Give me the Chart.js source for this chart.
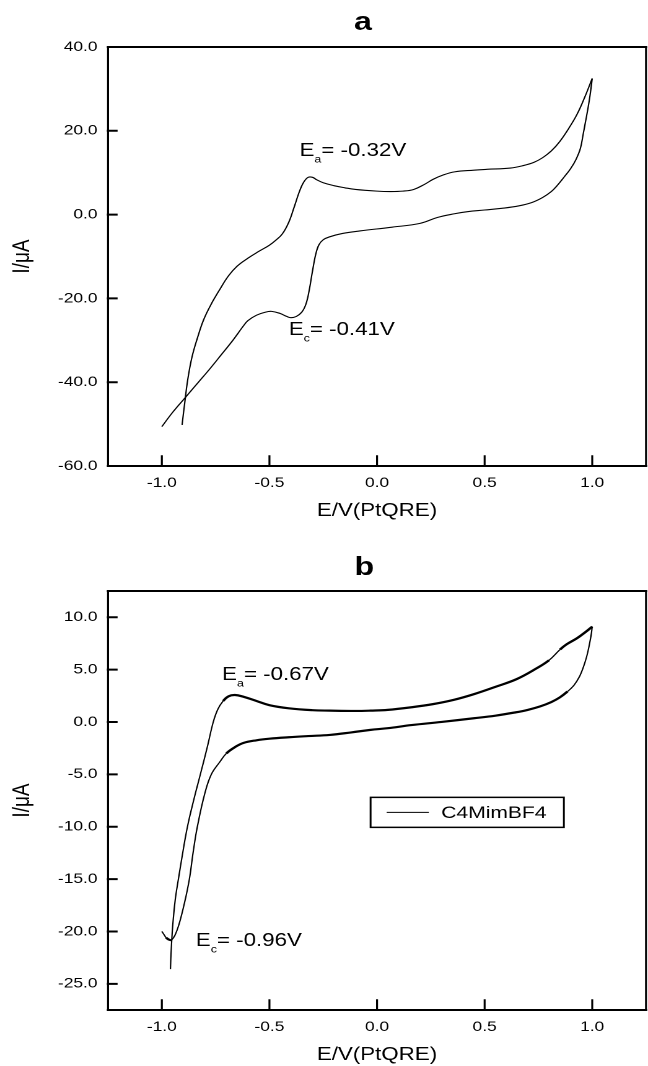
<!DOCTYPE html>
<html>
<head>
<meta charset="utf-8">
<script src="https://cdn.jsdelivr.net/npm/chart.js@4.4.1/dist/chart.umd.min.js"></script>
<style>
    html, body { margin: 0; padding: 0; background: #fff; }
    body { width: 648px; height: 1066px; overflow: hidden; position: relative; }
    /* the original figure is stretched sideways, so lay out at 523px and widen */
    #page { position: absolute; left: 0; top: 0; width: 523px; height: 1066px; transform: scaleX(1.239); transform-origin: 0 0; }
    .panel-title { position: absolute; font: bold 26px "Liberation Sans", Arial, sans-serif; line-height: 26px; transform: translateX(-50%); color: #000; }
    .box { position: absolute; left: 0; width: 523px; }
</style>
</head>
<body>
<div id="page">
    <div class="panel-title" style="left:293px; top:8px;">a</div>
    <div class="box" style="top:0; height:522px;"><canvas id="chartA"></canvas></div>
    <div class="panel-title" style="left:294px; top:553px;">b</div>
    <div class="box" style="top:533px; height:533px;"><canvas id="chartB"></canvas></div>
</div>
<script>
// ---- data ----
var xTicks = [-1.0, -0.5, 0.0, 0.5, 1.0];
var yTicksA = [-60, -40, -20, 0, 20, 40];
var yTicksB = [-25, -20, -15, -10, -5, 0, 5, 10];

// panel a, anodic sweep (-0.9 V -> 1.0 V)
var eA_fwd = [-0.906, -0.895, -0.88, -0.86, -0.835, -0.805, -0.77, -0.73, -0.69, -0.65, -0.60, -0.55, -0.50, -0.47, -0.44, -0.41, -0.385, -0.36, -0.34, -0.32, -0.30, -0.28, -0.25, -0.20, -0.15, -0.10, 0.00, 0.06, 0.12, 0.17, 0.22, 0.26, 0.31, 0.36, 0.45, 0.51, 0.62, 0.68, 0.73, 0.77, 0.81, 0.85, 0.89, 0.93, 0.965, 1.00];
var iA_fwd = [-50.2, -45.5, -39.5, -34.0, -29.5, -25.0, -21.3, -17.8, -14.6, -12.3, -10.4, -8.8, -7.3, -6.1, -4.6, -1.8, 1.8, 5.6, 7.8, 8.9, 8.9, 8.3, 7.6, 6.9, 6.4, 6.0, 5.6, 5.5, 5.6, 6.0, 7.2, 8.4, 9.5, 10.2, 10.6, 10.8, 11.1, 11.7, 12.5, 13.6, 15.2, 17.5, 20.5, 24.0, 28.0, 32.5];
// panel a, cathodic sweep (1.0 V -> -1.0 V)
var eA_rev = [1.00, 0.99, 0.98, 0.97, 0.958, 0.945, 0.925, 0.90, 0.87, 0.84, 0.81, 0.77, 0.72, 0.66, 0.58, 0.50, 0.42, 0.36, 0.28, 0.20, 0.07, -0.08, -0.16, -0.22, -0.25, -0.27, -0.285, -0.30, -0.315, -0.33, -0.35, -0.375, -0.40, -0.42, -0.45, -0.49, -0.52, -0.56, -0.60, -0.62, -0.67, -0.72, -0.78, -0.83, -0.89, -0.95, -1.00];
var iA_rev = [32.5, 28.5, 25.3, 22.5, 19.2, 15.8, 13.2, 11.0, 9.0, 7.1, 5.5, 4.1, 2.9, 2.1, 1.5, 1.1, 0.7, 0.2, -0.7, -2.1, -3.0, -3.9, -4.5, -5.3, -6.0, -7.2, -9.5, -13.5, -18.0, -21.3, -23.3, -24.3, -24.6, -24.3, -23.6, -23.1, -23.3, -24.0, -25.3, -26.5, -30.0, -33.2, -37.0, -40.0, -43.6, -47.2, -50.6];

// panel b, anodic sweep
var eB_fwd = [-0.96, -0.957, -0.95, -0.938, -0.923, -0.903, -0.881, -0.85, -0.821, -0.79, -0.761, -0.74, -0.715, -0.69, -0.66, -0.62, -0.56, -0.50, -0.41, -0.30, -0.22, -0.10, -0.03, 0.05, 0.16, 0.26, 0.355, 0.45, 0.55, 0.65, 0.74, 0.80, 0.85, 0.88, 0.93, 0.97, 1.00];
var iB_fwd = [-23.6, -22.0, -19.6, -17.0, -15.0, -12.5, -10.0, -7.3, -5.0, -2.5, 0.0, 1.2, 2.0, 2.45, 2.57, 2.4, 2.0, 1.6, 1.3, 1.12, 1.08, 1.05, 1.08, 1.15, 1.4, 1.7, 2.1, 2.65, 3.35, 4.1, 5.1, 5.9, 6.9, 7.4, 8.0, 8.6, 9.1];
// panel b, cathodic sweep
var eB_rev = [1.00, 0.995, 0.985, 0.975, 0.96, 0.94, 0.915, 0.885, 0.85, 0.81, 0.76, 0.70, 0.64, 0.55, 0.45, 0.30, 0.16, 0.05, -0.03, -0.12, -0.22, -0.32, -0.41, -0.50, -0.56, -0.62, -0.66, -0.70, -0.73, -0.77, -0.80, -0.835, -0.855, -0.872, -0.895, -0.92, -0.94, -0.955, -0.965, -0.98, -0.99, -1.00];
var iB_rev = [9.1, 8.3, 7.2, 6.3, 5.3, 4.3, 3.5, 2.9, 2.35, 1.9, 1.5, 1.15, 0.9, 0.6, 0.35, 0.0, -0.3, -0.6, -0.76, -1.0, -1.24, -1.35, -1.46, -1.6, -1.75, -2.0, -2.4, -3.0, -3.8, -5.0, -6.8, -10.0, -12.5, -15.0, -17.3, -19.3, -20.4, -20.8, -20.8, -20.6, -20.3, -20.0];

var seriesNameB = 'C4MimBF4';

// ---- styling ----
var FONT = '"Liberation Sans", Arial, Helvetica, sans-serif';
Chart.defaults.font.family = FONT;
Chart.defaults.color = '#000';

// peak labels, anchored in data units (left end of text, baseline)
var notesA = [
    { at: [-0.36, 14.0], sub: 'a', text: '= -0.32V' },
    { at: [-0.41, -28.7], sub: 'c', text: '= -0.41V' }
];
var notesB = [
    { at: [-0.72, 4.0], sub: 'a', text: '= -0.67V' },
    { at: [-0.842, -21.4], sub: 'c', text: '= -0.96V' }
];

function toPoints(xs, ys) {
    return xs.map(function (x, i) { return { x: x, y: ys[i] }; });
}

// closed frame + inward tick marks on the left and bottom axes
var framePlugin = {
    id: 'frame',
    afterDatasetsDraw: function (chart) {
        var ctx = chart.ctx, a = chart.chartArea, xs = chart.scales.x, ys = chart.scales.y;
        ctx.save();
        ctx.strokeStyle = '#000';
        ctx.lineCap = 'square';
        ctx.lineWidth = 2;
        ctx.beginPath();
        ctx.moveTo(a.left, a.top); ctx.lineTo(a.right, a.top);
        ctx.moveTo(a.left, a.bottom); ctx.lineTo(a.right, a.bottom);
        ys.ticks.forEach(function (t) {
            var py = ys.getPixelForValue(t.value);
            ctx.moveTo(a.left, py); ctx.lineTo(a.left + 6.7, py);
        });
        ctx.stroke();
        ctx.lineWidth = 1.6;
        ctx.beginPath();
        ctx.moveTo(a.left, a.top); ctx.lineTo(a.left, a.bottom);
        ctx.moveTo(a.right, a.top); ctx.lineTo(a.right, a.bottom);
        xs.ticks.forEach(function (t) {
            var px = xs.getPixelForValue(t.value);
            ctx.moveTo(px, a.bottom); ctx.lineTo(px, a.bottom - 10);
        });
        ctx.stroke();
        ctx.restore();
    }
};

// E_a / E_c labels with a subscript
var notesPlugin = {
    id: 'notes',
    afterDraw: function (chart, args, opts) {
        var ctx = chart.ctx, xs = chart.scales.x, ys = chart.scales.y;
        ctx.save();
        ctx.fillStyle = '#000';
        ctx.textBaseline = 'alphabetic';
        ctx.textAlign = 'left';
        (opts.items || []).forEach(function (n) {
            var px = xs.getPixelForValue(n.at[0]);
            var py = ys.getPixelForValue(n.at[1]);
            ctx.font = '18px ' + FONT;
            ctx.fillText('E', px, py);
            var w = ctx.measureText('E').width;
            ctx.font = '10px ' + FONT;
            ctx.fillText(n.sub, px + w, py + 6.5);
            w += ctx.measureText(n.sub).width;
            ctx.font = '18px ' + FONT;
            ctx.fillText(n.text, px + w, py);
        });
        ctx.restore();
    }
};

// boxed legend inside the plot of panel b
var boxLegendPlugin = {
    id: 'boxLegend',
    afterDraw: function (chart, args, opts) {
        if (!opts.at) return;
        var ctx = chart.ctx;
        var left = chart.scales.x.getPixelForValue(opts.at[0]);
        var top = chart.scales.y.getPixelForValue(opts.at[1]);
        var label = chart.data.datasets[0].label;
        ctx.save();
        ctx.font = '17px ' + FONT;
        var tw = ctx.measureText(label).width;
        var w = 57 + tw + 14, h = 30;
        ctx.strokeStyle = '#000';
        ctx.lineWidth = 1.5;
        ctx.strokeRect(left, top, w, h);
        ctx.lineWidth = 1;
        ctx.beginPath();
        ctx.moveTo(left + 13, top + h / 2);
        ctx.lineTo(left + 47, top + h / 2);
        ctx.stroke();
        ctx.fillStyle = '#000';
        ctx.textBaseline = 'middle';
        ctx.fillText(label, left + 57, top + h / 2 + 1);
        ctx.restore();
    }
};

function buildOptions(yMin, yMax, yTicks, padTop, notes, legendAt) {
    return {
        responsive: true,
        maintainAspectRatio: false,
        animation: false,
        devicePixelRatio: 2,
        layout: { padding: { top: padTop, right: 1.6, left: 0, bottom: 0 } },
        elements: {
            point: { radius: 0, hoverRadius: 0 },
            line: { tension: 0.4, borderColor: '#000', borderWidth: 1.1, borderJoinStyle: 'round' }
        },
        plugins: {
            legend: { display: false },
            tooltip: { enabled: false },
            notes: { items: notes },
            boxLegend: { at: legendAt }
        },
        scales: {
            x: {
                type: 'linear',
                min: -1.25,
                max: 1.25,
                afterBuildTicks: function (s) { s.ticks = xTicks.map(function (v) { return { value: v }; }); },
                afterFit: function (s) { s.height = 56; },
                grid: { display: false, drawTicks: false },
                border: { display: false },
                ticks: {
                    padding: 8.6,
                    color: '#000',
                    font: { size: 14 },
                    maxRotation: 0,
                    callback: function (v) { return Number(v).toFixed(1); }
                },
                title: { display: true, text: 'E/V(PtQRE)', color: '#000', font: { size: 18 }, padding: { top: 0, bottom: 0 } }
            },
            y: {
                type: 'linear',
                min: yMin,
                max: yMax,
                afterBuildTicks: function (s) { s.ticks = yTicks.map(function (v) { return { value: v }; }); },
                afterFit: function (s) { s.width = 87.2; },
                grid: { display: false, drawTicks: false },
                border: { display: false },
                ticks: {
                    padding: 8.5,
                    color: '#000',
                    font: { size: 14 },
                    callback: function (v) { return Number(v).toFixed(1); }
                },
                title: { display: true, text: 'I/μA', color: '#000', font: { size: 19 }, padding: { top: 7, bottom: 0 } }
            }
        }
    };
}

// flat, noisy stretches of trace b look heavier than the steep ones
function segWidth(ctx) {
    var dx = Math.abs(ctx.p1.x - ctx.p0.x), dy = Math.abs(ctx.p1.y - ctx.p0.y);
    return dy > dx * 1.2 ? 1.1 : 2.2;
}

new Chart(document.getElementById('chartA'), {
    type: 'scatter',
    data: {
        datasets: [
            { label: 'anodic', data: toPoints(eA_fwd, iA_fwd), showLine: true },
            { label: 'cathodic', data: toPoints(eA_rev, iA_rev), showLine: true }
        ]
    },
    options: buildOptions(-60, 40, yTicksA, 47, notesA, null),
    plugins: [framePlugin, notesPlugin, boxLegendPlugin]
});

new Chart(document.getElementById('chartB'), {
    type: 'scatter',
    data: {
        datasets: [
            { label: seriesNameB, data: toPoints(eB_fwd, iB_fwd), showLine: true, segment: { borderWidth: segWidth } },
            { label: seriesNameB, data: toPoints(eB_rev, iB_rev), showLine: true, segment: { borderWidth: segWidth } }
        ]
    },
    options: buildOptions(-27.5, 12.5, yTicksB, 58, notesB, [-0.03, -7.2]),
    plugins: [framePlugin, notesPlugin, boxLegendPlugin]
});
</script>
</body>
</html>
